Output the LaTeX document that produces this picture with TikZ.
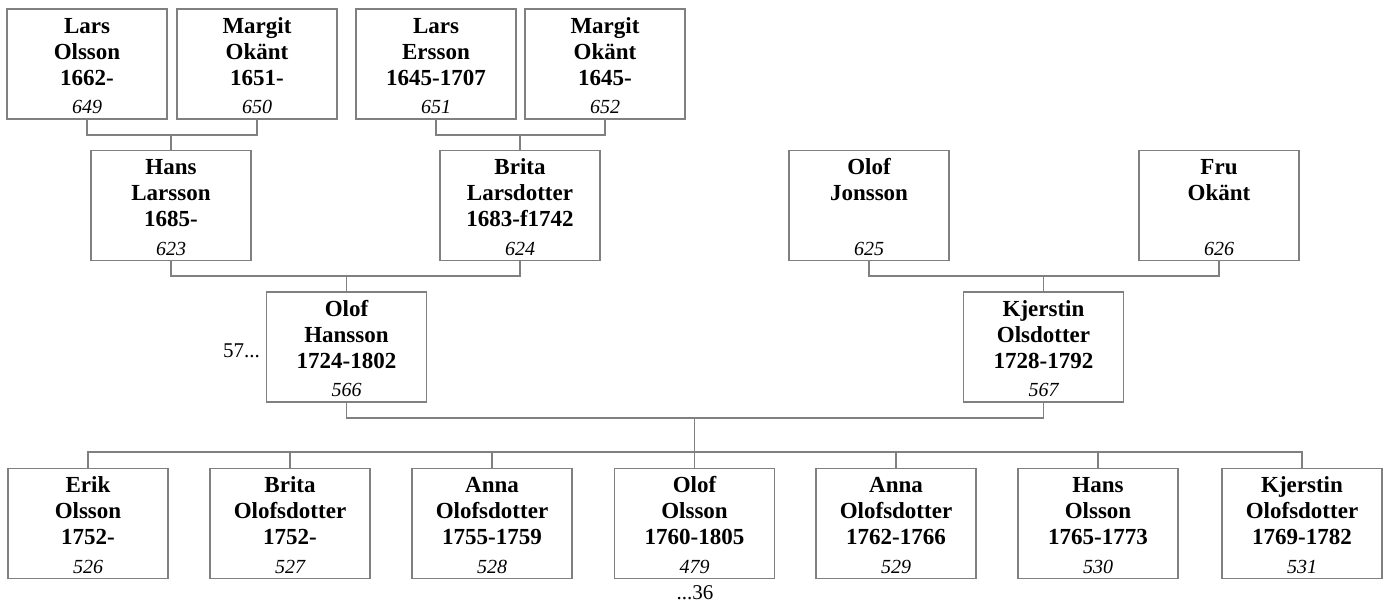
\documentclass[tikz,border=0pt]{standalone}
\usepackage{fontspec}
\setmainfont{Liberation Serif}
\definecolor{ln}{RGB}{128,128,128}
\tikzset{
  pbox/.style={draw=ln, line width=1.2pt, fill=white, minimum width=160pt, minimum height=110pt, inner sep=0pt},
  nm/.style={font=\bfseries\fontsize{23}{26}\selectfont, align=center, inner sep=0pt},
  num/.style={font=\itshape\fontsize{20}{24}\selectfont, inner sep=0pt},
  side/.style={font=\fontsize{21}{24}\selectfont, inner sep=0pt},
  conn/.style={draw=ln, line width=1.2pt}
}
\newcommand\pers[5]{%
  \node[pbox] (#1) at (#2,-#3) {};
  \node[nm, anchor=north] (#1n) at ([yshift=-6pt]#1.north) {\rule{0pt}{18.5pt}#4};
  \node[num, anchor=base] (#1i) at ([yshift=6pt]#1.south) {#5};
}
\begin{document}
\begin{tikzpicture}[x=1pt,y=1pt]
\useasboundingbox (0,0) rectangle (1386,-603);
% row 1
\pers{p649}{87}{64}{Lars\\Olsson\\1662-}{649}
\pers{p650}{257}{64}{Margit\\Okänt\\1651-}{650}
\pers{p651}{436}{64}{Lars\\Ersson\\1645-1707}{651}
\pers{p652}{605}{64}{Margit\\Okänt\\1645-}{652}
% row 2
\pers{p623}{171}{205.5}{Hans\\Larsson\\1685-}{623}
\pers{p624}{520}{205.5}{Brita\\Larsdotter\\1683-f1742}{624}
\pers{p625}{869}{205.5}{Olof\\Jonsson}{625}
\pers{p626}{1219}{205.5}{Fru\\Okänt}{626}
% row 3
\pers{p566}{346.5}{347}{Olof\\Hansson\\1724-1802}{566}
\pers{p567}{1043.5}{347}{Kjerstin\\Olsdotter\\1728-1792}{567}
% row 4
\pers{p526}{88}{523.5}{Erik\\Olsson\\1752-}{526}
\pers{p527}{290}{523.5}{Brita\\Olofsdotter\\1752-}{527}
\pers{p528}{492}{523.5}{Anna\\Olofsdotter\\1755-1759}{528}
\pers{p479}{694.5}{523.5}{Olof\\Olsson\\1760-1805}{479}
\pers{p529}{896}{523.5}{Anna\\Olofsdotter\\1762-1766}{529}
\pers{p530}{1098}{523.5}{Hans\\Olsson\\1765-1773}{530}
\pers{p531}{1302}{523.5}{Kjerstin\\Olofsdotter\\1769-1782}{531}
% side labels
\node[side, anchor=base east] (l57) at (260,-357) {57...};
\node[side, anchor=base] (l36) at (695,-599) {...36};
% junctions
\coordinate (j1) at (171,-135);
\coordinate (j2) at (520,-135);
\coordinate (j3) at (346.5,-276);
\coordinate (j4) at (1043.5,-276);
\coordinate (m) at (694.5,-418);
\coordinate (c) at (694.5,-452);
% connectors
\draw[conn] (p649.south) |- (j1) -| (p650.south);
\draw[conn] (j1) -- (p623.north);
\draw[conn] (p651.south) |- (j2) -| (p652.south);
\draw[conn] (j2) -- (p624.north);
\draw[conn] (p623.south) |- (j3) -| (p624.south);
\draw[conn] (j3) -- (p566.north);
\draw[conn] (p625.south) |- (j4) -| (p626.south);
\draw[conn] (j4) -- (p567.north);
\draw[conn] (p566.south) |- (m) -| (p567.south);
\draw[conn] (m) -- (c);
\draw[conn] (p526.north) |- (c) -| (p531.north);
\foreach \k in {p527,p528,p479,p529,p530}{
  \draw[conn] (\k.north) -- (\k.north |- c);
}
\end{tikzpicture}
\end{document}
